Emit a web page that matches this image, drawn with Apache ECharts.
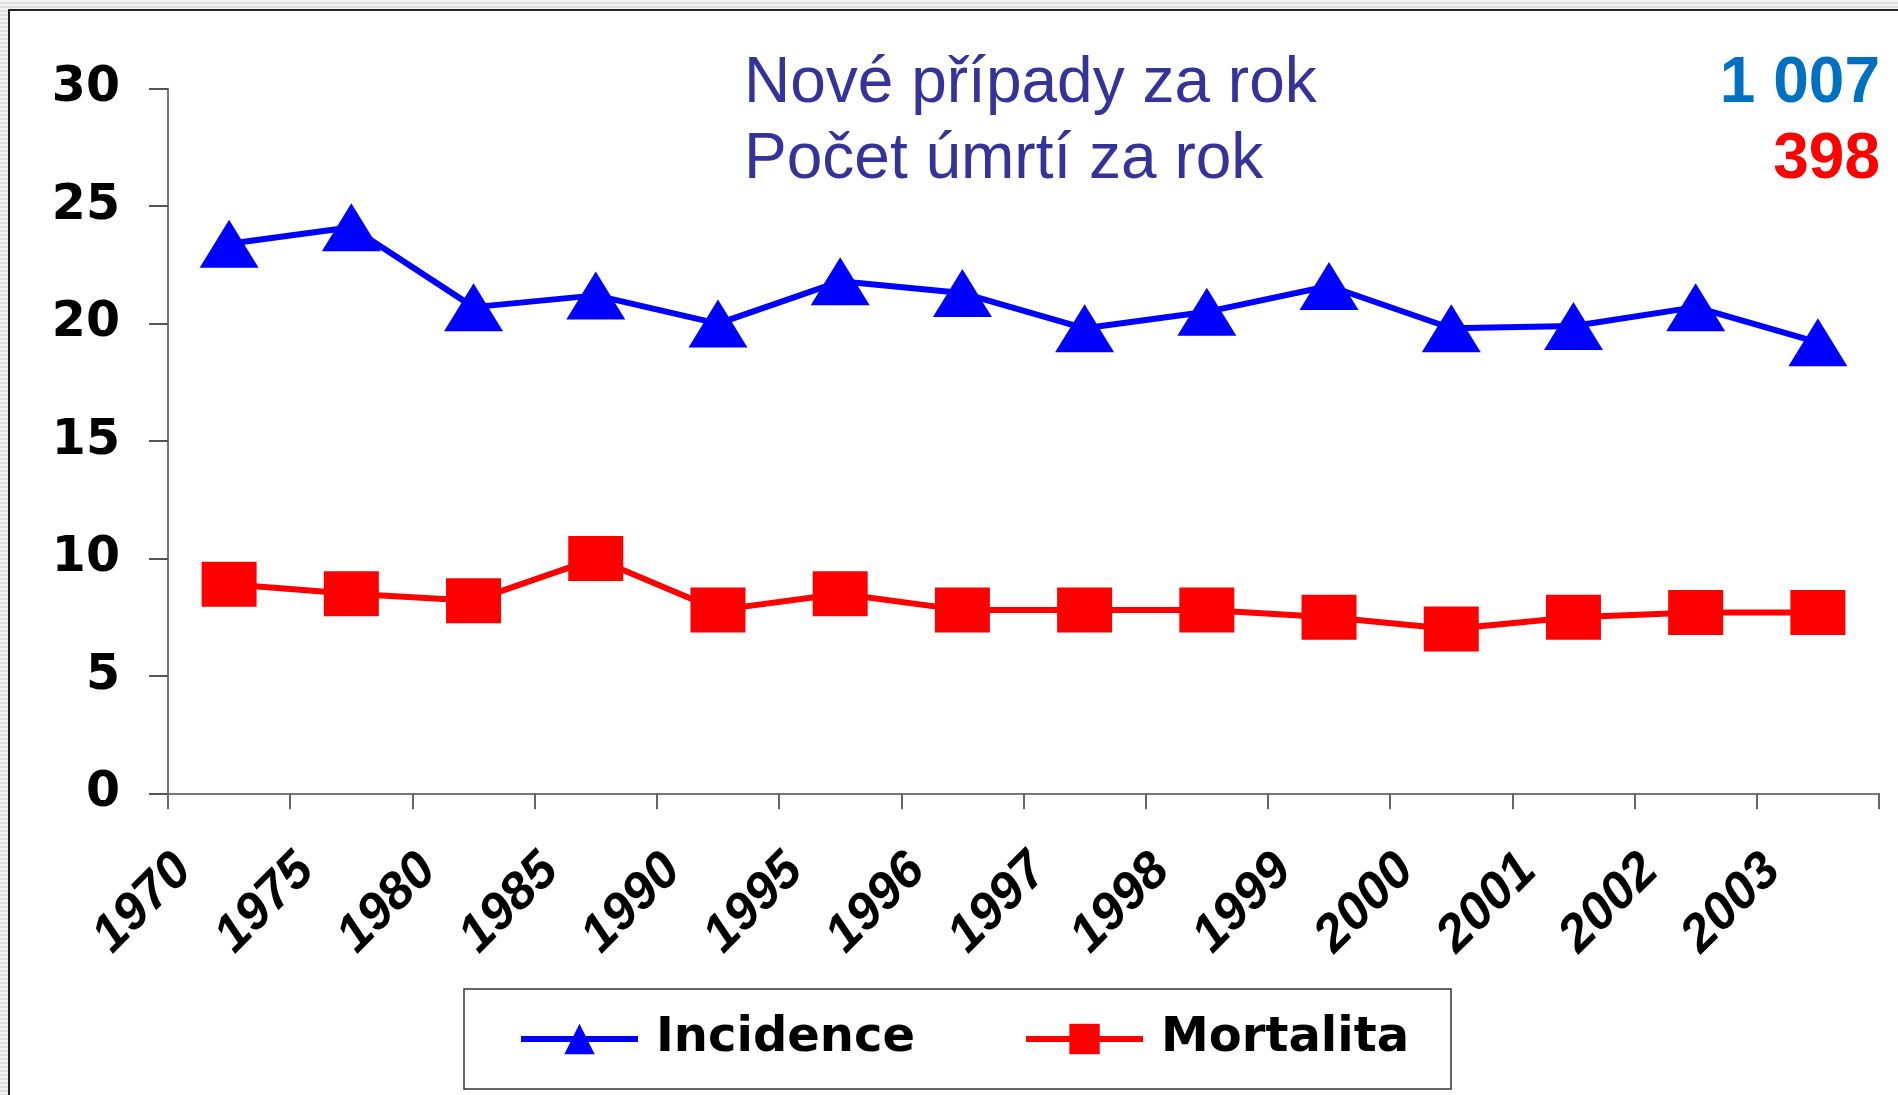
<!DOCTYPE html>
<html lang="cs">
<head>
<meta charset="utf-8">
<title>Incidence a mortalita</title>
<script src="https://cdn.jsdelivr.net/npm/echarts@6/dist/echarts.min.js"></script>
<style>
  html, body {
    margin: 0;
    padding: 0;
    width: 1898px;
    height: 1095px;
    overflow: hidden;
    background: repeating-linear-gradient(to bottom, #f3f3f3 0, #f3f3f3 2px, #dedede 2px, #dedede 4px);
  }
  /* white slide area with the dark frame on the left and on top */
  .frame {
    position: absolute;
    left: 8px;
    top: 9px;
    right: 0;
    bottom: 0;
    background: #fff;
    border-left: 2px solid #222;
    border-top: 2px solid #222;
  }
  #chart {
    position: absolute;
    left: 0;
    top: 0;
    width: 1898px;
    height: 1095px;
  }
</style>
</head>
<body>
<div class="frame"></div>
<div id="chart"></div>
<script>
// categories
const years = ['1970', '1975', '1980', '1985', '1990', '1995', '1996', '1997', '1998', '1999', '2000', '2001', '2002', '2003']

// per 100 000
const incidence = [23.4, 24.1, 20.7, 21.2, 20.0, 21.8, 21.3, 19.8, 20.5, 21.6, 19.8, 19.9, 20.7, 19.2]
const mortalita = [8.9, 8.5, 8.2, 10.0, 7.8, 8.5, 7.8, 7.8, 7.8, 7.5, 7.0, 7.5, 7.7, 7.7]

const seriesNames = ['Incidence', 'Mortalita']

// header block (top right)
const headerLabels = ['Nové případy za rok', 'Počet úmrtí za rok']
const headerValues = ['1 007', '398']

const myChart = echarts.init(document.getElementById('chart'))

const headerFont = 'Liberation Sans, Arial, sans-serif'
const tickFont = 'DejaVu Sans, sans-serif'

const headerText = (text, pos, color, weight) => ({
  text,
  ...pos,
  padding: 0,
  textStyle: { color, fontFamily: headerFont, fontWeight: weight, fontSize: 64 }
})

const option = {
  backgroundColor: 'transparent',
  animation: false,
  title: [
    headerText(headerLabels[0], { left: 744, top: 52 }, '#333399', 'normal'),
    headerText(headerLabels[1], { left: 744, top: 128 }, '#333399', 'normal'),
    headerText(headerValues[0], { right: 18, top: 52 }, '#0070C0', 'bold'),
    headerText(headerValues[1], { right: 18, top: 128 }, '#FF0000', 'bold')
  ],
  legend: {
    data: seriesNames,
    left: 464,
    top: 989,
    orient: 'horizontal',
    padding: [26, 42, 26, 54],
    itemWidth: 117,
    itemHeight: 38,
    itemGap: 108,
    borderColor: '#333',
    borderWidth: 1.5,
    backgroundColor: '#fff',
    lineStyle: { width: 6 },
    textStyle: {
      color: '#000',
      fontFamily: tickFont,
      fontWeight: 'bold',
      fontSize: 48,
      padding: [0, 0, 0, 13]
    }
  },
  grid: {
    left: 168,
    right: 19,
    top: 88.7,
    bottom: 301.7,
    containLabel: false
  },
  xAxis: {
    type: 'category',
    data: years,
    boundaryGap: true,
    axisLine: { lineStyle: { color: '#777', width: 2 } },
    axisTick: { show: true, interval: 0, length: 16, lineStyle: { color: '#666', width: 2 } },
    axisLabel: {
      interval: 0,
      rotate: 45,
      margin: 24,
      padding: [0, 64, 0, 0],
      color: '#000',
      fontFamily: headerFont,
      fontWeight: 'bold',
      fontStyle: 'italic',
      fontSize: 52
    },
    splitLine: { show: false }
  },
  yAxis: {
    type: 'value',
    min: 0,
    max: 30,
    interval: 5,
    axisLine: { show: true, lineStyle: { color: '#777', width: 2 } },
    axisTick: { show: true, length: 19, lineStyle: { color: '#555', width: 2 } },
    axisLabel: {
      margin: 48,
      color: '#000',
      fontFamily: tickFont,
      fontWeight: 'bold',
      fontSize: 49
    },
    splitLine: { show: false }
  },
  series: [
    {
      name: seriesNames[0],
      type: 'line',
      data: incidence,
      symbol: 'triangle',
      symbolSize: [59, 48],
      color: '#0000FF',
      lineStyle: { color: '#0000FF', width: 6 },
      itemStyle: { color: '#0000FF' },
      z: 3
    },
    {
      name: seriesNames[1],
      type: 'line',
      data: mortalita,
      symbol: 'rect',
      symbolSize: [55, 45],
      color: '#FF0000',
      lineStyle: { color: '#FF0000', width: 6 },
      itemStyle: { color: '#FF0000' },
      z: 2
    }
  ]
}

myChart.setOption(option, true)
</script>
</body>
</html>
